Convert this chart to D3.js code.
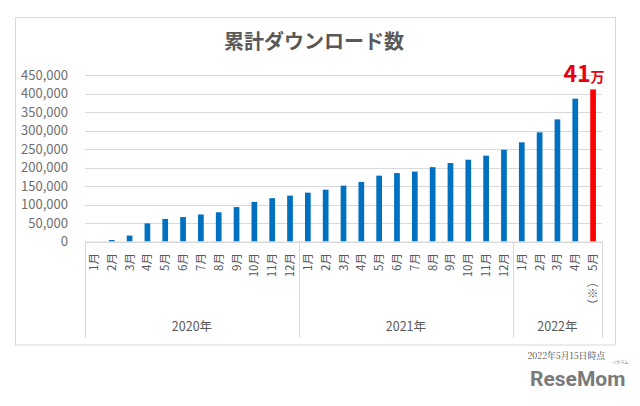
<!DOCTYPE html>
<html><head><meta charset="utf-8">
<script src="https://cdn.jsdelivr.net/npm/d3@7"></script>
<style>
html,body{margin:0;padding:0;background:#fff;}
svg{display:block;font-family:"Noto Sans CJK JP","Noto Sans",sans-serif;}
</style></head>
<body>
<svg id="chart" width="640" height="406"></svg>
<script>
const title = "累計ダウンロード数";
const years = ["2020年", "2021年", "2022年"];
const monthsPerYear = [12, 12, 5];
const monthLabels = ["1月","2月","3月","4月","5月","6月","7月","8月","9月","10月","11月","12月",
                     "1月","2月","3月","4月","5月","6月","7月","8月","9月","10月","11月","12月",
                     "1月","2月","3月","4月","5月"];
const downloads = [0, 4000, 16000, 49000, 61000, 66000, 73000, 79000, 93000, 107000, 117000, 124000,
                   132000, 140000, 151000, 161000, 178000, 185000, 189000, 201000, 212000, 221000, 232000, 248000,
                   268000, 295000, 330000, 386000, 411000];
const yTicks = [0, 50000, 100000, 150000, 200000, 250000, 300000, 350000, 400000, 450000];
const highlightIndex = 28;
const highlightLabel = "41";
const highlightUnit = "万";
const noteMark = "（※）";
const footnote = "2022年5月15日時点";

const svg = d3.select("#chart");
const plotLeft = 85, plotRight = 602, plotTop = 75, base = 241.5;
const gridColor = "#d9d9d9", textColor = "#595959";

// frame
svg.append("rect").attr("x", 15.5).attr("y", 17.5).attr("width", 600).attr("height", 327.5)
  .attr("fill", "#fff").attr("stroke", "#d9d9d9");

// title
svg.append("text").attr("x", 314).attr("y", 49).attr("text-anchor", "middle")
  .attr("font-size", 20).attr("font-weight", 700).attr("fill", textColor).text(title);

const idx = d3.range(downloads.length);
const x = d3.scaleBand().domain(idx).range([plotLeft, plotRight]).paddingInner(0.68).paddingOuter(0.34);
const xc = d3.scaleBand().domain(idx).range([plotLeft, plotRight]).padding(0);
const y = d3.scaleLinear().domain([0, 450000]).range([base, plotTop]);

// gridlines
svg.append("g").selectAll("line").data(yTicks).join("line")
  .attr("x1", plotLeft).attr("x2", plotRight)
  .attr("y1", d => Math.round(y(d)) + 0.5).attr("y2", d => Math.round(y(d)) + 0.5)
  .attr("stroke", gridColor).attr("stroke-width", 1);

// y axis
const yAxis = svg.append("g").attr("transform", `translate(${plotLeft - 10},0)`)
  .call(d3.axisLeft(y).tickValues(yTicks).tickFormat(d3.format(",")).tickSize(0).tickPadding(7));
yAxis.select(".domain").remove();
yAxis.selectAll("text").attr("font-size", 13).attr("fill", "#6f6f6f")
  .attr("font-family", '"Noto Sans CJK JP","Noto Sans",sans-serif');

// bars
svg.append("g").selectAll("rect").data(idx).join("rect")
  .attr("x", i => x(i)).attr("width", x.bandwidth())
  .attr("y", i => y(downloads[i])).attr("height", i => base - y(downloads[i]))
  .attr("fill", i => i === highlightIndex ? "#ff0000" : "#0070c0");

// category area lines
svg.append("line").attr("x1", plotLeft).attr("x2", plotRight).attr("y1", base + 0.5).attr("y2", base + 0.5)
  .attr("stroke", gridColor);
let bounds = [0];
monthsPerYear.forEach(n => bounds.push(bounds[bounds.length - 1] + n));
const bx = b => b < downloads.length ? xc(b) : plotRight;
svg.append("g").selectAll("line").data(bounds).join("line")
  .attr("x1", b => Math.round(bx(b)) + 0.5).attr("x2", b => Math.round(bx(b)) + 0.5)
  .attr("y1", base).attr("y2", 338).attr("stroke", gridColor);

// month labels (rotated)
svg.append("g").selectAll("text").data(idx).join("text")
  .attr("transform", i => `translate(${xc(i) + xc.bandwidth() / 2 + 4},253) rotate(-90)`)
  .attr("text-anchor", "end").attr("font-size", 11.5).attr("fill", textColor)
  .text(i => monthLabels[i]);
svg.append("text")
  .attr("transform", `translate(${xc(highlightIndex) + xc.bandwidth() / 2 + 4},276) rotate(-90)`)
  .attr("text-anchor", "end").attr("font-size", 11.5).attr("fill", textColor).text(noteMark);

// year labels
svg.append("g").selectAll("text").data(years).join("text")
  .attr("x", (d, k) => (bx(bounds[k]) + bx(bounds[k + 1])) / 2).attr("y", 331)
  .attr("text-anchor", "middle").attr("font-size", 12.5).attr("fill", textColor).text(d => d);

// highlight label
const hl = svg.append("text").attr("x", 584).attr("y", 82)
  .attr("text-anchor", "middle").attr("fill", "#e60012").attr("font-weight", 700);
hl.append("tspan").attr("font-size", 23).text(highlightLabel);
hl.append("tspan").attr("font-size", 14).text(highlightUnit);

// footnote
svg.append("text").attr("x", 605).attr("y", 359).attr("text-anchor", "end")
  .attr("font-size", 8.8).attr("fill", "#444").attr("font-family", '"Noto Serif CJK JP","Noto Sans CJK JP",serif')
  .text(footnote);

// logo (single text element)
const logo = svg.append("text").attr("x", 530).attr("y", 386).attr("fill", "#7a7a7a");
logo.append("tspan").attr("font-size", 21).attr("font-weight", 700)
  .attr("font-family", "Roboto, sans-serif").text("ReseMom");
logo.append("tspan").attr("font-size", 4).attr("dx", -13).attr("dy", -22).text("リセマム");
</script>
</body></html>
